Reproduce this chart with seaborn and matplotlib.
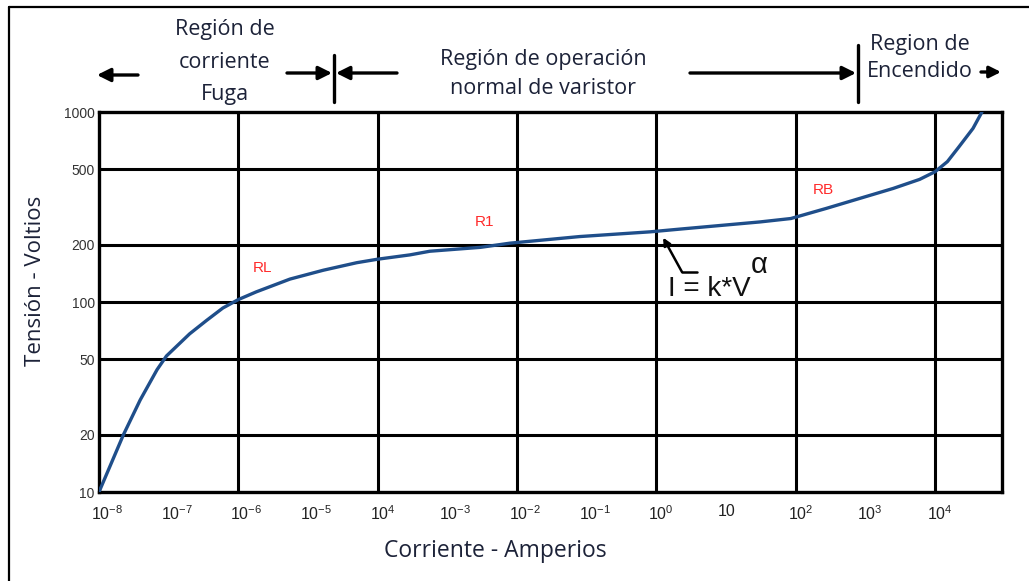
import matplotlib
matplotlib.use("Agg")
import matplotlib.pyplot as plt
import numpy as np
import pandas as pd
import seaborn as sns
from matplotlib.lines import Line2D
from matplotlib.ticker import NullLocator
from matplotlib.transforms import ScaledTranslation

# Varistor V-I characteristic (current in A, voltage in V)
current = [1e-8, 2.24e-8, 3.9e-8, 6.8e-8, 9.3e-8, 2.0e-7, 3.5e-7, 6.0e-7, 1.0e-6,
           1.8e-6, 5.5e-6, 1.66e-5, 5.0e-5, 1.0e-4, 2.9e-4, 5.6e-4, 3.0e-3, 7.9e-3,
           7.9e-2, 0.81, 2.2, 31, 85, 275, 830, 2500, 6000, 1.0e4, 1.5e4, 2.2e4,
           3.5e4, 4.7e4]
voltage = [10, 20, 30.5, 44, 52, 68, 80, 93, 103,
           113, 132, 147, 161, 168, 177, 185, 194, 204,
           221, 234, 242, 264, 275, 311, 351, 396, 442, 485, 548, 656,
           820, 1000]

x_decades = [-8, -7, -6, -5, -4, -3, -2, -1, 0, 1, 2, 3, 4]
x_tick_labels = [r"$10^{-8}$", r"$10^{-7}$", r"$10^{-6}$", r"$10^{-5}$", r"$10^{4}$",
                 r"$10^{-3}$", r"$10^{-2}$", r"$10^{-1}$", r"$10^{0}$", "10",
                 r"$10^{2}$", r"$10^{3}$", r"$10^{4}$"]
x_grid_decades = [-6, -4, -2, 0, 2, 4]
y_ticks = [10, 20, 50, 100, 200, 500, 1000]
y_grid = [20, 50, 100, 200, 500]

region_labels = ["RL", "R1", "RB"]
region_current = [2.2e-6, 3.4e-3, 245]
region_voltage = [151, 264, 388]

sns.set_style("white")
plt.rcParams['font.family'] = ['Liberation Sans', 'DejaVu Sans']
plt.rcParams['mathtext.fontset'] = 'custom'
plt.rcParams['mathtext.rm'] = 'Liberation Sans'
plt.rcParams['mathtext.it'] = 'Liberation Sans:italic'

W, H = 1029, 581
fig = plt.figure(figsize=(W / 100, H / 100), dpi=100)
ax = fig.add_axes([99 / W, 1 - 492 / H, (1002 - 99) / W, (492 - 112) / H])

df = pd.DataFrame({"Corriente": current, "Tension": voltage})
sns.lineplot(data=df, x="Corriente", y="Tension", ax=ax, color="#1f4e8a",
             lw=2.4, estimator=None, zorder=3)

ax.set_xscale("log")
ax.set_yscale("log")
ax.set_xlim(1e-8, 10 ** 4.96)
ax.set_ylim(10, 1000)

for e in x_grid_decades:
    ax.axvline(10.0 ** e, color="black", lw=2.2, zorder=1)
for v in y_grid:
    ax.axhline(v, color="black", lw=2.2, zorder=1)

ax.set_xticks([10.0 ** e for e in x_decades])
ax.set_xticklabels(x_tick_labels)
ax.xaxis.set_minor_locator(NullLocator())
ax.set_yticks(y_ticks)
ax.set_yticklabels([str(v) for v in y_ticks])
ax.yaxis.set_minor_locator(NullLocator())
ax.tick_params(axis="x", direction="in", length=7, width=2, color="black",
               pad=9, labelsize=11.5, labelcolor="#222222")
ax.tick_params(axis="y", length=0, pad=3, labelsize=10, labelcolor="#333333")
shift = ScaledTranslation(-8 / 100, 0, fig.dpi_scale_trans)
for lab in ax.get_xticklabels():
    lab.set_horizontalalignment("left")
    lab.set_transform(lab.get_transform() + shift)

for s in ax.spines.values():
    s.set_visible(True)
    s.set_linewidth(2.4)
    s.set_color("black")
ax.set_xlabel("")
ax.set_ylabel("")

for lab, xc, yv in zip(region_labels, region_current, region_voltage):
    ax.text(xc, yv, lab, color="#ff2a2a", fontsize=11, ha="center", va="center")

# Power-law formula with pointer to the curve
ax.annotate("", xy=(1.25, 218), xycoords="data",
            xytext=(682, H - 272), textcoords="figure pixels",
            arrowprops=dict(arrowstyle="-|>", color="black", lw=1.8,
                            mutation_scale=11, shrinkA=0, shrinkB=0),
            annotation_clip=False)
fig.add_artist(Line2D([682 / W, 697 / W], [1 - 272 / H, 1 - 272 / H],
                      transform=fig.transFigure, color="black", lw=1.8))
fig.text(668 / W, 1 - 296 / H, "I = k*V", fontsize=20, ha="left", va="baseline",
         color="#111111")
fig.text(751 / W, 1 - 273 / H, "α", fontsize=21, ha="left", va="baseline",
         color="#111111")

# Axis titles
title_font = "Open Sans"
ink = "#1c2238"
fig.text(36 / W, 1 - 281 / H, "Tensión - Voltios", rotation=90, ha="center",
         va="center", fontsize=16, family=title_font, color=ink)
fig.text(495 / W, 1 - 551 / H, "Corriente - Amperios", ha="center", va="center",
         fontsize=16.5, family=title_font, color=ink)

# Operating regions above the plot
fig.text(225 / W, 1 - 62 / H, "Región de\ncorriente\nFuga", ha="center",
         va="center", fontsize=15.5, family=title_font, linespacing=1.74,
         color=ink)
fig.text(543 / W, 1 - 74 / H, "Región de operación\nnormal de varistor",
         ha="center", va="center", fontsize=15.5, family=title_font,
         linespacing=1.49, color=ink)
fig.text(920 / W, 1 - 58 / H, "Region de\nEncendido", ha="center",
         va="center", fontsize=15.5, family=title_font, linespacing=1.43,
         color=ink)


def region_arrow(x0, x1, y, scale=20):
    ax.annotate("", xy=(x1, H - y), xycoords="figure pixels",
                xytext=(x0, H - y), textcoords="figure pixels",
                arrowprops=dict(arrowstyle="-|>", color="black", lw=2.4,
                                mutation_scale=scale, shrinkA=0, shrinkB=0),
                annotation_clip=False)


def region_bar(x, y0, y1):
    fig.add_artist(Line2D([x / W, x / W], [1 - y0 / H, 1 - y1 / H],
                          transform=fig.transFigure, color="black", lw=2.4))


region_arrow(138, 97, 75)
region_arrow(287, 332, 73)
region_arrow(397, 336, 73)
region_bar(334, 55, 102)
region_arrow(690, 856, 73)
region_bar(858, 45, 102)
region_arrow(981, 1001, 72, scale=17)

# Outer frame (top and left edges)
fig.add_artist(Line2D([9 / W, 1.0], [1 - 7 / H, 1 - 7 / H],
                      transform=fig.transFigure, color="black", lw=1.6))
fig.add_artist(Line2D([9 / W, 9 / W], [1 - 7 / H, 0.0],
                      transform=fig.transFigure, color="black", lw=1.6))

fig.savefig("out.png", dpi=100)
